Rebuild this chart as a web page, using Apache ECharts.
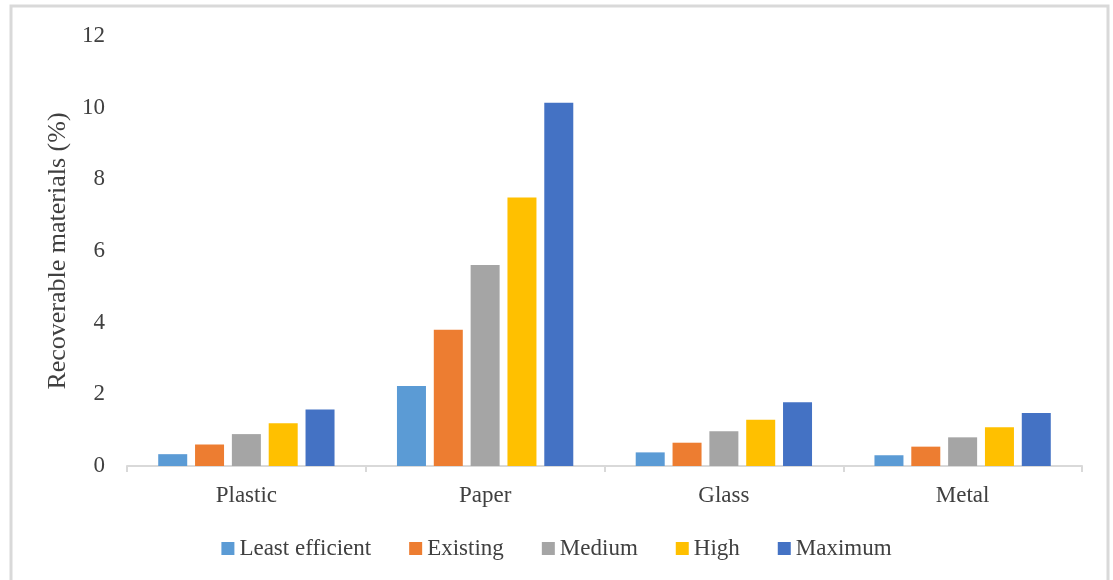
<!DOCTYPE html>
<html>
<head>
<meta charset="utf-8">
<script src="https://cdn.jsdelivr.net/npm/echarts@6/dist/echarts.min.js"></script>
<style>
html,body{margin:0;padding:0;background:#fff;}
#chart{width:1113px;height:580px;}
</style>
</head>
<body>
<div id="chart"></div>
<script>
const categories = ['Plastic', 'Paper', 'Glass', 'Metal'];
const seriesNames = ['Least efficient', 'Existing', 'Medium', 'High', 'Maximum'];
const leastEfficient = [0.33, 2.23, 0.38, 0.30];
const existing = [0.60, 3.80, 0.65, 0.54];
const medium = [0.89, 5.61, 0.97, 0.80];
const high = [1.19, 7.49, 1.29, 1.08];
const maximum = [1.58, 10.14, 1.78, 1.48];
const yTicks = [0, 2, 4, 6, 8, 10, 12];
const colors = ['#5B9BD5', '#ED7D31', '#A5A5A5', '#FFC000', '#4472C4'];

const values = [leastEfficient, existing, medium, high, maximum];
const font = "'Liberation Serif', 'Times New Roman', serif";
const textColor = '#404040';

const chart = echarts.init(document.getElementById('chart'), null, {renderer: 'canvas'});
chart.setOption({
  animation: false,
  backgroundColor: '#ffffff',
  color: colors,
  graphic: [{
    type: 'rect',
    shape: {x: 11, y: 6, width: 1097, height: 590},
    style: {fill: 'none', stroke: '#d9d9d9', lineWidth: 3},
    silent: true
  }],
  grid: {left: 127, right: 31, top: 36, bottom: 114},
  legend: {
    data: seriesNames,
    bottom: 15,
    left: 'center',
    itemWidth: 13,
    itemHeight: 13,
    itemGap: 38,
    icon: 'rect',
    textStyle: {fontFamily: font, fontSize: 23, color: textColor}
  },
  xAxis: {
    type: 'category',
    data: categories,
    axisLine: {lineStyle: {color: '#d9d9d9', width: 2}},
    axisTick: {show: true, length: 6, lineStyle: {color: '#d9d9d9', width: 2}},
    axisLabel: {fontFamily: font, fontSize: 23, color: textColor, margin: 18}
  },
  yAxis: {
    type: 'value',
    min: yTicks[0],
    max: yTicks[yTicks.length - 1],
    interval: yTicks[1] - yTicks[0],
    name: 'Recoverable materials (%)',
    nameLocation: 'middle',
    nameGap: 50,
    nameRotate: 90,
    nameTextStyle: {fontFamily: font, fontSize: 26, color: textColor},
    axisLine: {show: false},
    axisTick: {show: false},
    splitLine: {show: false},
    axisLabel: {fontFamily: font, fontSize: 23, color: textColor, margin: 22}
  },
  series: seriesNames.map((name, i) => ({
    name: name,
    type: 'bar',
    data: values[i],
    barWidth: 29,
    barGap: '27%',
    itemStyle: {color: colors[i]}
  }))
});
</script>
</body>
</html>
